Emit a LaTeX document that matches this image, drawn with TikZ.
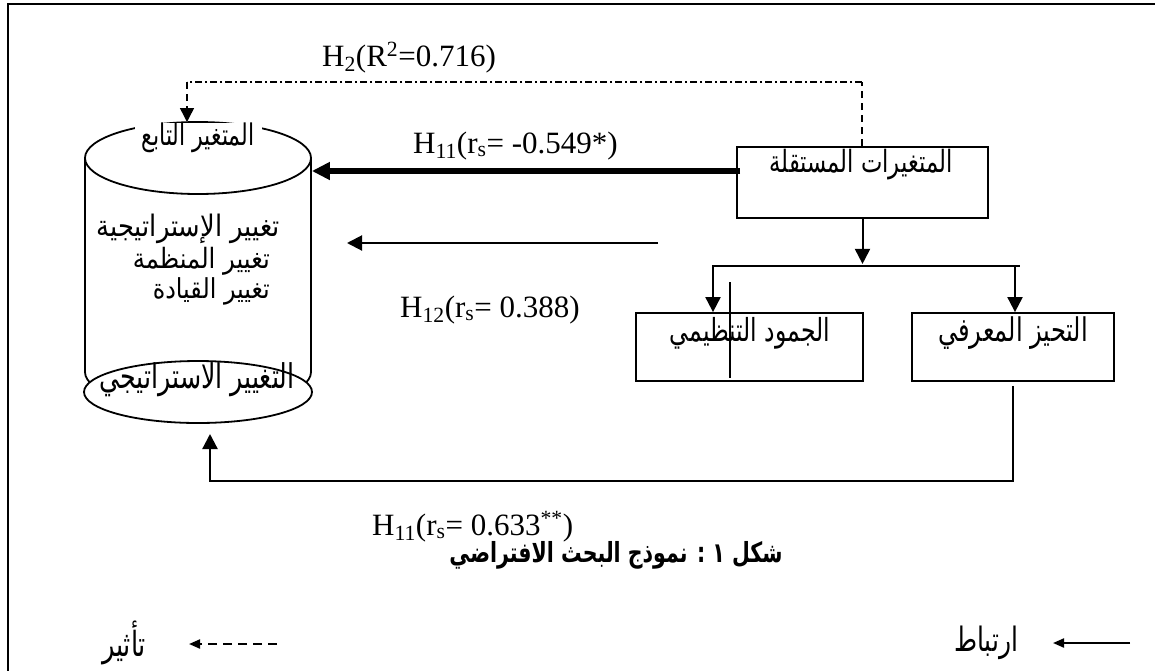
\documentclass[tikz,border=0pt]{standalone}
\usepackage{fontspec}
\usepackage{graphicx}
\setmainfont{Liberation Serif}
\newfontfamily\arabicfont[Script=Arabic]{DejaVu Sans}
\TeXXeTstate=1
\usetikzlibrary{arrows.meta,shapes.geometric}
\newcommand{\artxt}[2]{\resizebox{#1}{!}{\scalebox{1}[1.35]{\arabicfont #2}}}
\newcommand{\artxtm}[2]{\resizebox{#1}{!}{\scalebox{1}[1.15]{\arabicfont #2}}}
\newcommand{\artxtb}[2]{\resizebox{#1}{!}{\scalebox{1}[1.35]{\arabicfont\bfseries #2}}}
\begin{document}
\begin{tikzpicture}[x=1pt,y=-1pt,
  lbl/.style={inner sep=0pt, font=\fontsize{31}{37}\selectfont},
  artx/.style={inner sep=0pt},
  boxn/.style={draw, line width=1.8pt, inner sep=0pt, rectangle},
  conn/.style={line width=2pt},
  tip/.style={-{Triangle[length=15pt,width=15pt]}},
  smalltip/.style={-{Triangle[length=11pt,width=9pt]}},
]
\useasboundingbox (0,0) rectangle (1155,670);
% outer frame
\draw[line width=2.2pt] (8,675) -- (8,4) -- (1160,4);

% cylinder (dependent variable)
\node[ellipse, draw, line width=1.8pt, inner sep=0pt, minimum width=226pt, minimum height=72pt] (cyltop) at (198,158) {};
\draw[line width=1.8pt] (85,158) -- (85,372)
  .. controls (85,391.9) and (135.6,408) .. (198,408)
  .. controls (260.4,408) and (311,391.9) .. (311,372) -- (311,158);
\node[ellipse, draw, fill=white, line width=1.8pt, inner sep=0pt, minimum width=228pt, minimum height=62pt] (cylbot) at (198,392) {};
\node[fill=white, inner sep=0pt, minimum width=127pt, minimum height=28pt] (deptitle) at (198,137.5) {\artxt{113pt}{\beginR المتغير التابع\endR}};
\node[artx, anchor=east] (d1) at (280,229) {\artxtm{183pt}{\beginR تغيير الإستراتيجية\endR}};
\node[artx, anchor=east] (d2) at (270,261) {\artxtm{137pt}{\beginR تغيير المنظمة\endR}};
\node[artx, anchor=east] (d3) at (270,291) {\artxtm{117pt}{\beginR تغيير القيادة\endR}};
\node[artx] (dbot) at (197,380) {\artxt{195pt}{\beginR التغيير الاستراتيجي\endR}};

% independent variables box
\node[boxn, minimum width=251pt, minimum height=71pt] (indep) at (862.5,182.5) {};
\node[artx] (indeptext) at (861,165) {\artxt{183pt}{\beginR المتغيرات المستقلة\endR}};

% lower boxes
\node[boxn, minimum width=227pt, minimum height=68pt] (rig) at (749.5,347) {};
\node[artx] (rigtext) at (750,333) {\artxt{160pt}{\beginR الجمود التنظيمي\endR}};
\node[boxn, minimum width=202pt, minimum height=68pt] (bias) at (1013,347) {};
\node[artx] (biastext) at (1013,333) {\artxt{150pt}{\beginR التحيز المعرفي\endR}};
\draw[line width=1.5pt] (730,282) -- (730,378);

% labels
\node[lbl, anchor=base west] (h2) at (322,66) {H\textsubscript{2}(R\textsuperscript{2}=0.716)};
\node[lbl, anchor=base west] (h11a) at (413,153) {H\textsubscript{11}(r\textsubscript{s}= -0.549*)};
\node[lbl, anchor=base west] (h12) at (400,317) {H\textsubscript{12}(r\textsubscript{s}= 0.388)};
\node[lbl, anchor=base west] (h11b) at (372,535) {H\textsubscript{11}(r\textsubscript{s}= 0.633\textsuperscript{**})};
\node[artx] (cap) at (616,555) {\artxtb{333pt}{\beginR شكل ١ : نموذج البحث الافتراضي\endR}};

% H2 dash-dot connector
\coordinate (dd1) at (862,82);
\coordinate (dd2) at (187,82);
\coordinate (ddtip) at (187,122);
\draw[line width=1.5pt, dash pattern=on 7pt off 5pt] (indep.north -| dd1) -- (dd1);
\draw[line width=1.5pt, dash pattern=on 7pt off 3pt on 2pt off 3pt] (dd1) -- (dd2);
\draw[line width=1.5pt, dash pattern=on 7pt off 5pt, -{Triangle[length=14pt,width=14pt]}] (dd2) -- (ddtip);

% thick H11 arrow
\draw[line width=5.5pt, -{Triangle[length=18pt,width=17pt]}] ([xshift=4pt,yshift=11.5pt]indep.west) coordinate (t1) -- (t1 -| cyltop.east);

% H12 arrow
\coordinate (h12s) at (658,243);
\coordinate (h12e) at (347,243);
\draw[conn, tip] (h12s) -- (h12e);

% branching
\draw[conn, tip] (indep.south) -- ++(0,45);
\coordinate (barL) at (712,266);
\coordinate (barR) at (1020,266);
\draw[conn] (barL) -- (barR);
\draw[conn, tip] ([xshift=1pt]barL) -- ([xshift=1pt]barL |- rig.north);
\draw[conn, tip] ([xshift=-5pt]barR) -- ([xshift=-5pt]barR |- bias.north);

% bottom return arrow
\coordinate (lowrow) at (0,481);
\coordinate (upTip) at (210,434);
\draw[line width=2.3pt, tip] ([yshift=-4pt]bias.south) -- (bias.south |- lowrow) -| (upTip);

% legend
\coordinate (lr1) at (1130,643);
\coordinate (lr2) at (1053,643);
\draw[conn, smalltip] (lr1) -- (lr2);
\node[artx] (legr) at (986,643) {\artxt{64pt}{\beginR ارتباط\endR}};
\coordinate (ll1) at (277,644);
\coordinate (ll2) at (189,644);
\draw[conn, smalltip, dash pattern=on 9pt off 6pt] (ll1) -- (ll2);
\node[artx] (legl) at (124,643) {\artxt{44pt}{\beginR تأثير\endR}};
\end{tikzpicture}
\end{document}
